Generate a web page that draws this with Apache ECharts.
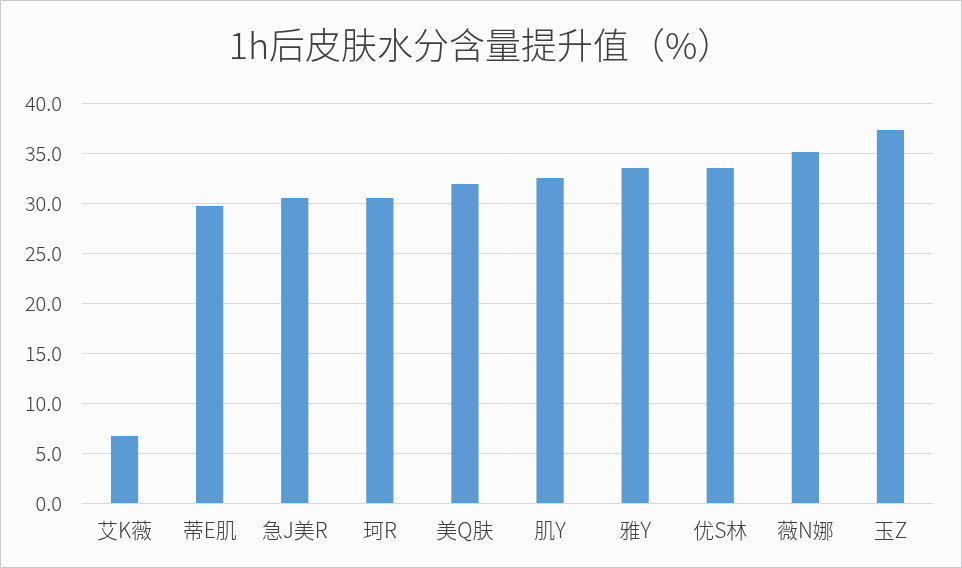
<!DOCTYPE html>
<html><head><meta charset="utf-8">
<script src="https://cdn.jsdelivr.net/npm/echarts@6/dist/echarts.min.js"></script>
<style>html,body{margin:0;padding:0;background:#fcfcfd;}#c{width:962px;height:568px;}</style>
</head><body><div id="c"></div>
<script>
const categories = ['艾K薇','蒂E肌','急J美R','珂R','美Q肤','肌Y','雅Y','优S林','薇N娜','玉Z'];
const values = [6.7, 29.7, 30.5, 30.5, 31.9, 32.5, 33.5, 33.5, 35.1, 37.3];
const titleText = '1h后皮肤水分含量提升值（%）';

const chart = echarts.init(document.getElementById('c'));
chart.setOption({
  backgroundColor: '#fcfcfd',
  animation: false,
  title: {
    text: titleText, left: 'center', top: 22,
    textStyle: {fontFamily: 'Noto Sans CJK SC', fontSize: 36, fontWeight: 300, color: '#404040'}
  },
  graphic: [{type:'rect', shape:{x:0.5,y:0.5,width:961,height:567}, style:{fill:'none', stroke:'#c8c8cc', lineWidth:1}, silent:true}],
  grid: {left: 82, right: 29, top: 103, bottom: 65, containLabel: false},
  xAxis: {
    type: 'category', data: categories,
    axisLine: {lineStyle: {color: '#d9d9d9'}},
    axisTick: {show: false},
    axisLabel: {interval: 0, hideOverlap: false, fontFamily: 'Noto Sans CJK SC', fontSize: 21, fontWeight: 300, color: '#404040', margin: 17}
  },
  yAxis: {
    type: 'value', min: 0, max: 40, interval: 5,
    axisLine: {show: false}, axisTick: {show: false},
    splitLine: {lineStyle: {color: '#d9d9d9'}},
    axisLabel: {fontFamily: 'Noto Sans CJK SC', fontSize: 20, fontWeight: 300, color: '#404040', margin: 20,
      formatter: v => v.toFixed(1)}
  },
  series: [{type: 'bar', data: values, barWidth: '32%', itemStyle: {color: '#5b9bd5'}}]
});
</script></body></html>
